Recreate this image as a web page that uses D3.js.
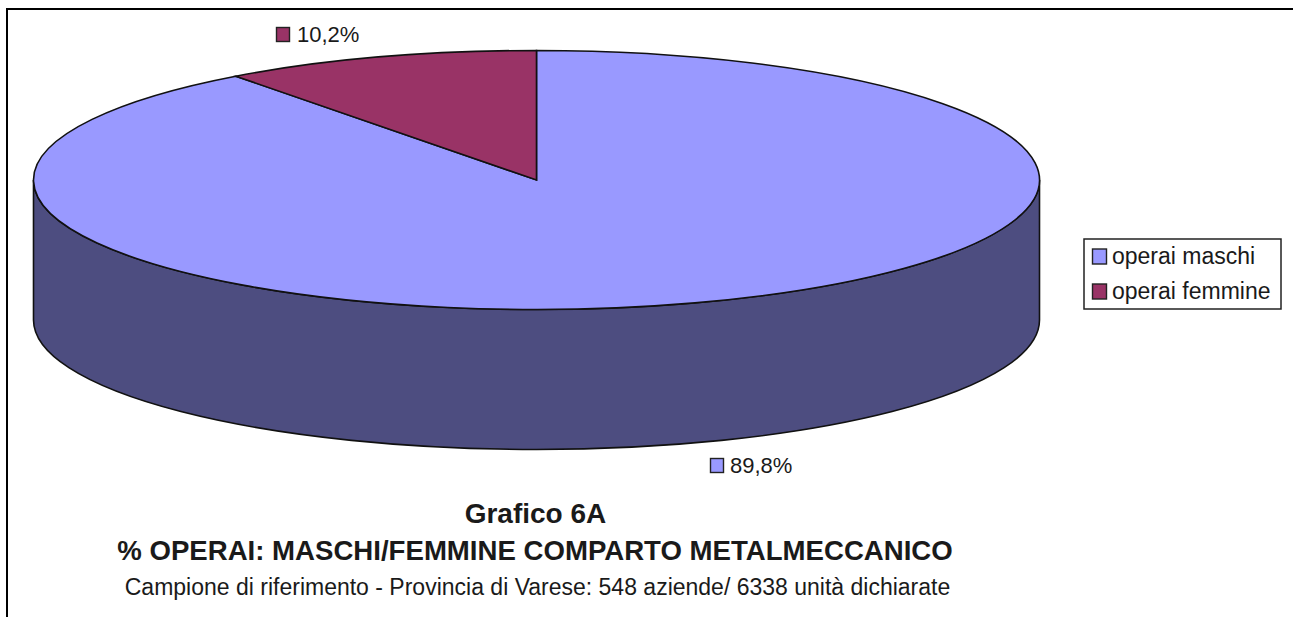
<!DOCTYPE html>
<html>
<head>
<meta charset="utf-8">
<script src="https://cdn.jsdelivr.net/npm/d3@7"></script>
<style>
    html, body { margin: 0; padding: 0; background: #fff; }
    svg { display: block; }
    text { font-family: "Liberation Sans", Arial, sans-serif; fill: #1a1a1a; }
</style>
</head>
<body>
<div id="chart"></div>
<script>
const categories = ["operai maschi", "operai femmine"];
const values = [89.8, 10.2];
const valueLabels = ["89,8%", "10,2%"];
const colors = ["#9999ff", "#993366"];
const titleLines = [
    "Grafico 6A",
    "% OPERAI: MASCHI/FEMMINE COMPARTO METALMECCANICO",
    "Campione di riferimento - Provincia di Varese: 548 aziende/ 6338 unità dichiarate"
];

const width = 1293, height = 617;
const cx = 536.5, cy = 180, rx = 503, ry = 129.5, depth = 140;
const wallColor = "#4d4d80";

const svg = d3.select("#chart").append("svg")
    .attr("width", width)
    .attr("height", height);

// frame, open at the bottom
svg.append("path")
    .attr("d", `M7 ${height} V9 H${width}`)
    .attr("fill", "none")
    .attr("stroke", "#000")
    .attr("stroke-width", 2);

// side wall of the disc
svg.append("path")
    .attr("d", `M${cx - rx} ${cy} A${rx} ${ry} 0 0 0 ${cx + rx} ${cy} V${cy + depth} A${rx} ${ry} 0 0 1 ${cx - rx} ${cy + depth} Z`)
    .attr("fill", wallColor)
    .attr("stroke", "#111")
    .attr("stroke-width", 1.6);

// top face: a normal pie squashed into an ellipse
const pie = d3.pie().sort(null);
const arc = d3.arc().innerRadius(0).outerRadius(rx);

svg.append("g")
    .attr("transform", `translate(${cx},${cy}) scale(1,${ry / rx})`)
    .selectAll("path")
    .data(pie(values))
    .join("path")
    .attr("d", arc)
    .attr("fill", (d, i) => colors[i])
    .attr("stroke", "#111")
    .attr("stroke-width", 1.6)
    .attr("vector-effect", "non-scaling-stroke");

// value labels
const valueLabelPos = [[710, 458, 730], [276, 27, 297]];
valueLabels.forEach((label, i) => {
    const [x, y, textX] = valueLabelPos[i];
    svg.append("rect")
        .attr("x", x + 0.5).attr("y", y + 0.5)
        .attr("width", 13).attr("height", 14)
        .attr("fill", colors[i])
        .attr("stroke", "#222")
        .attr("stroke-width", 1.4);
    svg.append("text")
        .attr("x", textX).attr("y", y + 15)
        .attr("font-size", 22)
        .text(label);
});

// legend
const legend = svg.append("g");
legend.append("rect")
    .attr("x", 1084).attr("y", 239)
    .attr("width", 197).attr("height", 70)
    .attr("fill", "#fff")
    .attr("stroke", "#222")
    .attr("stroke-width", 1.5);
categories.forEach((name, i) => {
    const y = 249 + i * 35;
    legend.append("rect")
        .attr("x", 1092.5).attr("y", y)
        .attr("width", 14).attr("height", 15)
        .attr("fill", colors[i])
        .attr("stroke", "#222")
        .attr("stroke-width", 1.4);
    legend.append("text")
        .attr("x", 1112).attr("y", y + 15)
        .attr("font-size", 23)
        .text(name);
});

// titles, centred under the pie
const titleStyle = [
    { x: 535.5, y: 523, size: 28, weight: "bold" },
    { x: 535, y: 560, size: 27.6, weight: "bold" },
    { x: 537.5, y: 595, size: 23, weight: "normal" }
];
titleLines.forEach((line, i) => {
    const s = titleStyle[i];
    svg.append("text")
        .attr("x", s.x)
        .attr("y", s.y)
        .attr("text-anchor", "middle")
        .attr("font-size", s.size)
        .attr("font-weight", s.weight)
        .text(line);
});
</script>
</body>
</html>
